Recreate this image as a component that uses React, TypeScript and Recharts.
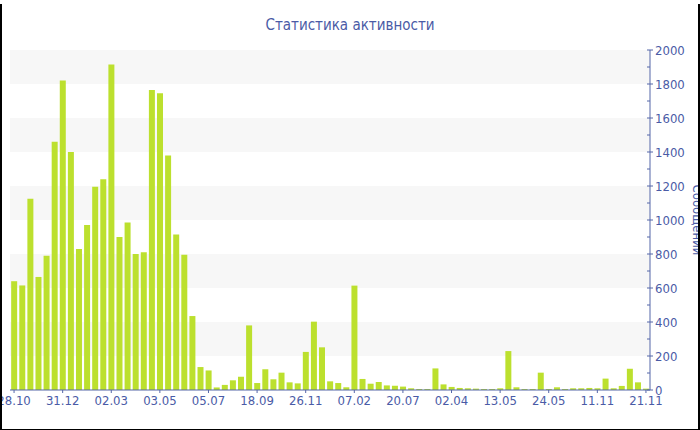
import React from 'react';
import { BarChart, Bar, XAxis, YAxis, ReferenceArea } from 'recharts';

const TEXT = '#4a5ba6';
const AXIS = '#5566a8';
const BAR = '#bce02e';

// every 6th category gets a label on the axis
const tickLabels = [
  '28.10', '31.12', '02.03', '03.05', '05.07', '18.09', '26.11',
  '07.02', '20.07', '02.04', '13.05', '24.05', '11.11', '21.11'
];

// messages per period
const messages = [
  640, 615, 1125, 665, 790, 1460, 1820, 1400, 830, 970,
  1195, 1240, 1915, 900, 985, 800, 810, 1765, 1745, 1380,
  915, 795, 435, 135, 115, 15, 30, 57, 78, 380,
  41, 122, 63, 102, 45, 39, 224, 402, 251, 51,
  41, 16, 614, 65, 37, 47, 27, 25, 20, 10,
  6, 6, 127, 33, 18, 12, 10, 8, 6, 6,
  10, 229, 16, 6, 6, 102, 6, 16, 6, 10,
  10, 12, 10, 67, 10, 24, 125, 45, 8
];

const yTicks = [
  0, 100, 200, 300, 400, 500, 600, 700, 800, 900, 1000,
  1100, 1200, 1300, 1400, 1500, 1600, 1700, 1800, 1900, 2000
];

// shaded horizontal bands
const bandStarts = [200, 600, 1000, 1400, 1800];

const data = messages.map((v, i) => ({ i, v }));

function YTick({ x, y, payload }: any) {
  const major = payload.value % 200 === 0;
  return (
    <g>
      <line x1={x - 3} x2={major ? x + 3 : x} y1={y} y2={y} stroke={AXIS} />
      {major && (
        <text x={x + 5} y={y} dy="0.35em" fill={TEXT} fontSize={13}>
          {payload.value}
        </text>
      )}
    </g>
  );
}

function YLabel({ viewBox }: any) {
  const x = viewBox.x + viewBox.width - 7;
  const y = viewBox.y + viewBox.height / 2;
  return (
    <text x={x} y={y} transform={`rotate(90, ${x}, ${y})`} textAnchor="middle" fill={TEXT} fontSize={13}>
      Сообщений
    </text>
  );
}

export default function App() {
  return (
    <div
      style={{
        position: 'absolute',
        left: 0,
        top: 0,
        width: 700,
        height: 430,
        background: '#fff',
        fontFamily: "Tahoma, 'DejaVu Sans Condensed', 'Liberation Sans', sans-serif",
        overflow: 'hidden'
      }}
    >
      <div
        style={{
          position: 'absolute',
          left: 0,
          right: 0,
          top: 15,
          textAlign: 'center',
          fontSize: 15,
          color: TEXT,
          lineHeight: '20px'
        }}
      >
        Статистика активности
      </div>
      <div style={{ position: 'absolute', left: 0, top: 0 }}>
        <BarChart
          width={700}
          height={430}
          data={data}
          margin={{ top: 50, right: 0, bottom: 0, left: 10 }}
          barCategoryGap="14.5%"
        >
          {bandStarts.map((b) => (
            <ReferenceArea
              key={b}
              y1={b}
              y2={b + 200}
              fill="#f7f7f7"
              fillOpacity={1}
              stroke="none"
              ifOverflow="visible"
            />
          ))}
          <XAxis
            dataKey="i"
            interval={5}
            height={40}
            tickSize={3}
            tickMargin={3}
            stroke={AXIS}
            tickLine={{ stroke: AXIS }}
            axisLine={{ stroke: AXIS }}
            tick={{ fill: TEXT, fontSize: 13 }}
            tickFormatter={(i: number) => tickLabels[i / 6] ?? ''}
          />
          <YAxis
            orientation="right"
            width={50}
            domain={[0, 2000]}
            ticks={yTicks}
            interval={0}
            tickSize={0}
            tickMargin={0}
            tickLine={false}
            axisLine={{ stroke: AXIS }}
            tick={<YTick />}
            label={{ content: <YLabel /> }}
          />
          <Bar dataKey="v" fill={BAR} isAnimationActive={false} />
        </BarChart>
      </div>
      <div
        style={{
          position: 'absolute',
          left: 0,
          top: 4,
          width: 700,
          height: 426,
          boxSizing: 'border-box',
          borderStyle: 'solid',
          borderColor: '#000',
          borderWidth: '0 2px 1px 2px',
          pointerEvents: 'none'
        }}
      />
    </div>
  );
}
